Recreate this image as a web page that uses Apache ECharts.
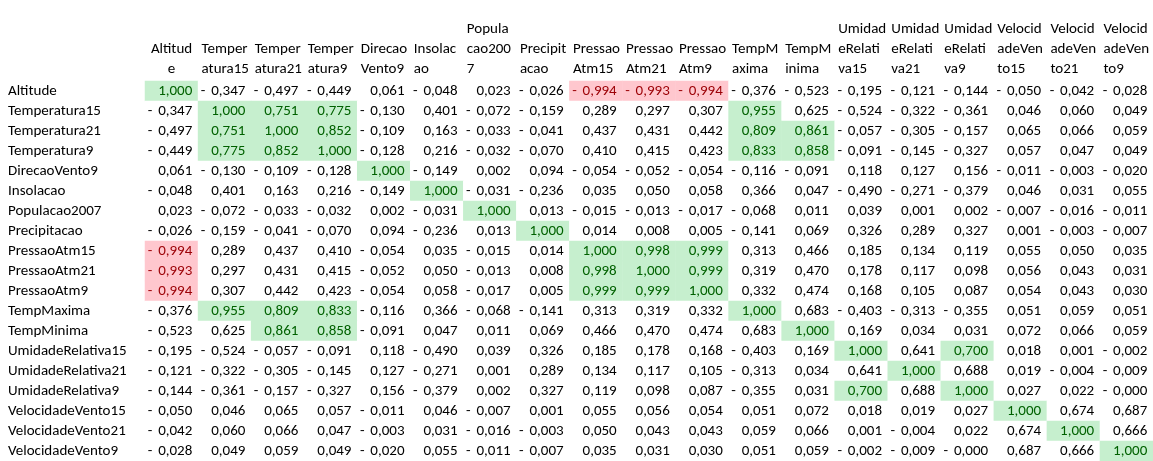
<!DOCTYPE html>
<html>
<head>
<meta charset="utf-8">
<script src="https://cdn.jsdelivr.net/npm/echarts@6/dist/echarts.min.js"></script>
<style>
html,body{margin:0;padding:0;background:#fff;}
#chart{width:1153px;height:461px;}
</style>
</head>
<body>
<div id="chart"></div>
<script>
const variables = ['Altitude','Temperatura15','Temperatura21','Temperatura9','DirecaoVento9','Insolacao','Populacao2007','Precipitacao','PressaoAtm15','PressaoAtm21','PressaoAtm9','TempMaxima','TempMinima','UmidadeRelativa15','UmidadeRelativa21','UmidadeRelativa9','VelocidadeVento15','VelocidadeVento21','VelocidadeVento9'];
const headerLabels = ['Altitud\ne','Temper\natura15','Temper\natura21','Temper\natura9','Direcao\nVento9','Insolac\nao','Popula\ncao200\n7','Precipit\nacao','Pressao\nAtm15','Pressao\nAtm21','Pressao\nAtm9','TempM\naxima','TempM\ninima','Umidad\neRelati\nva15','Umidad\neRelati\nva21','Umidad\neRelati\nva9','Velocid\nadeVen\nto15','Velocid\nadeVen\nto21','Velocid\nadeVen\nto9'];

const rowAltitude = [1.000,-0.347,-0.497,-0.449,0.061,-0.048,0.023,-0.026,-0.994,-0.993,-0.994,-0.376,-0.523,-0.195,-0.121,-0.144,-0.050,-0.042,-0.028];
const rowTemperatura15 = [-0.347,1.000,0.751,0.775,-0.130,0.401,-0.072,-0.159,0.289,0.297,0.307,0.955,0.625,-0.524,-0.322,-0.361,0.046,0.060,0.049];
const rowTemperatura21 = [-0.497,0.751,1.000,0.852,-0.109,0.163,-0.033,-0.041,0.437,0.431,0.442,0.809,0.861,-0.057,-0.305,-0.157,0.065,0.066,0.059];
const rowTemperatura9 = [-0.449,0.775,0.852,1.000,-0.128,0.216,-0.032,-0.070,0.410,0.415,0.423,0.833,0.858,-0.091,-0.145,-0.327,0.057,0.047,0.049];
const rowDirecaoVento9 = [0.061,-0.130,-0.109,-0.128,1.000,-0.149,0.002,0.094,-0.054,-0.052,-0.054,-0.116,-0.091,0.118,0.127,0.156,-0.011,-0.003,-0.020];
const rowInsolacao = [-0.048,0.401,0.163,0.216,-0.149,1.000,-0.031,-0.236,0.035,0.050,0.058,0.366,0.047,-0.490,-0.271,-0.379,0.046,0.031,0.055];
const rowPopulacao2007 = [0.023,-0.072,-0.033,-0.032,0.002,-0.031,1.000,0.013,-0.015,-0.013,-0.017,-0.068,0.011,0.039,0.001,0.002,-0.007,-0.016,-0.011];
const rowPrecipitacao = [-0.026,-0.159,-0.041,-0.070,0.094,-0.236,0.013,1.000,0.014,0.008,0.005,-0.141,0.069,0.326,0.289,0.327,0.001,-0.003,-0.007];
const rowPressaoAtm15 = [-0.994,0.289,0.437,0.410,-0.054,0.035,-0.015,0.014,1.000,0.998,0.999,0.313,0.466,0.185,0.134,0.119,0.055,0.050,0.035];
const rowPressaoAtm21 = [-0.993,0.297,0.431,0.415,-0.052,0.050,-0.013,0.008,0.998,1.000,0.999,0.319,0.470,0.178,0.117,0.098,0.056,0.043,0.031];
const rowPressaoAtm9 = [-0.994,0.307,0.442,0.423,-0.054,0.058,-0.017,0.005,0.999,0.999,1.000,0.332,0.474,0.168,0.105,0.087,0.054,0.043,0.030];
const rowTempMaxima = [-0.376,0.955,0.809,0.833,-0.116,0.366,-0.068,-0.141,0.313,0.319,0.332,1.000,0.683,-0.403,-0.313,-0.355,0.051,0.059,0.051];
const rowTempMinima = [-0.523,0.625,0.861,0.858,-0.091,0.047,0.011,0.069,0.466,0.470,0.474,0.683,1.000,0.169,0.034,0.031,0.072,0.066,0.059];
const rowUmidadeRelativa15 = [-0.195,-0.524,-0.057,-0.091,0.118,-0.490,0.039,0.326,0.185,0.178,0.168,-0.403,0.169,1.000,0.641,0.700,0.018,0.001,-0.002];
const rowUmidadeRelativa21 = [-0.121,-0.322,-0.305,-0.145,0.127,-0.271,0.001,0.289,0.134,0.117,0.105,-0.313,0.034,0.641,1.000,0.688,0.019,-0.004,-0.009];
const rowUmidadeRelativa9 = [-0.144,-0.361,-0.157,-0.327,0.156,-0.379,0.002,0.327,0.119,0.098,0.087,-0.355,0.031,0.700,0.688,1.000,0.027,0.022,-0.0002];
const rowVelocidadeVento15 = [-0.050,0.046,0.065,0.057,-0.011,0.046,-0.007,0.001,0.055,0.056,0.054,0.051,0.072,0.018,0.019,0.027,1.000,0.674,0.687];
const rowVelocidadeVento21 = [-0.042,0.060,0.066,0.047,-0.003,0.031,-0.016,-0.003,0.050,0.043,0.043,0.059,0.066,0.001,-0.004,0.022,0.674,1.000,0.666];
const rowVelocidadeVento9 = [-0.028,0.049,0.059,0.049,-0.020,0.055,-0.011,-0.007,0.035,0.031,0.030,0.051,0.059,-0.002,-0.009,-0.0002,0.687,0.666,1.000];

const rows = [rowAltitude,rowTemperatura15,rowTemperatura21,rowTemperatura9,rowDirecaoVento9,rowInsolacao,rowPopulacao2007,rowPrecipitacao,rowPressaoAtm15,rowPressaoAtm21,rowPressaoAtm9,rowTempMaxima,rowTempMinima,rowUmidadeRelativa15,rowUmidadeRelativa21,rowUmidadeRelativa9,rowVelocidadeVento15,rowVelocidadeVento21,rowVelocidadeVento9];

const FONT = 'Carlito, Calibri, Lato, sans-serif';
const FS = 15;
const GOOD_BG = '#C6EFCE', GOOD_FG = '#006100';
const BAD_BG = '#FFC7CE', BAD_FG = '#9C0006';

function styleFor(v){
  if (v >= 0.7) return {bg: GOOD_BG, fg: GOOD_FG};
  if (v <= -0.7) return {bg: BAD_BG, fg: BAD_FG};
  return {bg: '#ffffff', fg: '#000000'};
}

const numData = [];
const signData = [];
rows.forEach((row, r) => {
  row.forEach((v, c) => {
    const s = styleFor(v);
    numData.push({value: [c, r, v], itemStyle: {color: s.bg}, label: {color: s.fg}});
    signData.push({value: [c, r, v], label: {color: s.fg}});
  });
});

const chart = echarts.init(document.getElementById('chart'), null, {renderer: 'canvas'});
chart.setOption({
  animation: false,
  backgroundColor: '#ffffff',
  grid: {left: 145, right: 0, top: 81, bottom: 0},
  xAxis: {
    type: 'category',
    position: 'top',
    data: headerLabels.map((h, i) => i === 0
      ? {value: h, textStyle: {align: 'center', padding: 0}}
      : {value: h}),
    axisLine: {show: false}, axisTick: {show: false}, splitLine: {show: false},
    axisLabel: {
      interval: 0, margin: 2, fontFamily: FONT, fontSize: FS, color: '#000',
      lineHeight: 20, align: 'left', verticalAlign: 'bottom', padding: [0, 0, 0, -23]
    }
  },
  yAxis: {
    type: 'category',
    inverse: true,
    data: variables,
    axisLine: {show: false}, axisTick: {show: false}, splitLine: {show: false},
    axisLabel: {interval: 0, margin: 137, align: 'left', fontFamily: FONT, fontSize: FS, color: '#000'}
  },
  series: [
    {
      type: 'heatmap',
      data: numData,
      silent: true,
      emphasis: {disabled: true},
      label: {
        show: true, position: 'insideRight', distance: 6,
        fontFamily: FONT, fontSize: FS,
        formatter: p => Math.abs(p.value[2]).toFixed(3).replace('.', ',')
      }
    },
    {
      type: 'heatmap',
      data: signData,
      silent: true,
      emphasis: {disabled: true},
      itemStyle: {color: 'rgba(0,0,0,0)'},
      label: {
        show: true, position: 'insideLeft', distance: 3,
        fontFamily: FONT, fontSize: FS,
        formatter: p => (p.value[2] < 0 ? '-' : '')
      }
    }
  ]
});
</script>
</body>
</html>
